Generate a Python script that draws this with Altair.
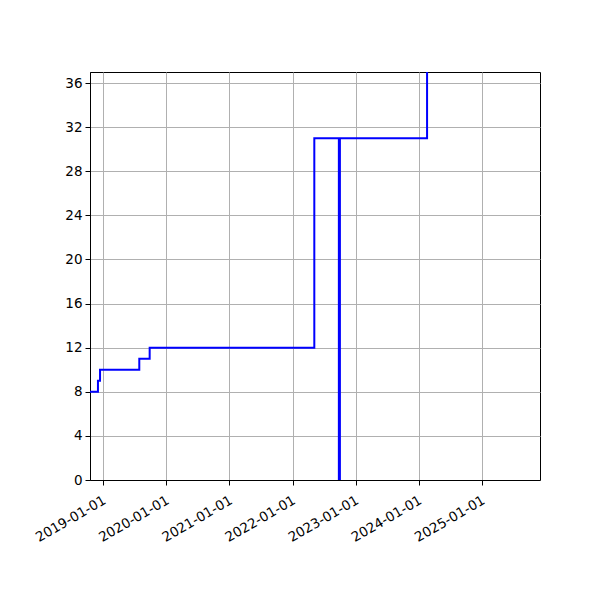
import altair as alt
import pandas as pd

dates = ["2018-10-01", "2018-12-03", "2018-12-15", "2019-07-30", "2019-09-28",
         "2022-05-07", "2022-09-26", "2022-10-02", "2024-02-18", "2025-12-31"]
values = [8, 9, 10, 11, 12, 31, 0, 31, 40, 40]

tick_years = [2019, 2020, 2021, 2022, 2023, 2024, 2025]
y_ticks = list(range(0, 37, 4))

df = pd.DataFrame({"date": dates, "value": values})

font = "DejaVu Sans"

chart = alt.Chart(df).mark_line(
    interpolate="step-after", color="#0000ff", strokeWidth=2, clip=True
).encode(
    x=alt.X("date:T",
            scale=alt.Scale(type="utc",
                            domain=[alt.DateTime(year=2018, month=10, date=18, utc=True),
                                    alt.DateTime(year=2025, month=12, date=2, utc=True)]),
            axis=alt.Axis(values=[alt.DateTime(year=y, month=1, date=1, utc=True) for y in tick_years],
                          format="%Y-%m-%d", labelAngle=-30, labelAlign="right",
                          labelBaseline="top", labelOverlap=False, labelPadding=8,
                          labelOffset=-2, title=None)),
    y=alt.Y("value:Q", scale=alt.Scale(domain=[0, 37], nice=False, zero=True),
            axis=alt.Axis(values=y_ticks, title=None)),
).properties(
    width=450, height=408,
    autosize=alt.AutoSizeParams(type="none"),
    padding={"left": 82, "top": 64, "right": 52, "bottom": 112},
).configure_view(
    stroke="black", strokeWidth=1
).configure_axis(
    grid=True, gridColor="#b0b0b0", gridWidth=1, gridOpacity=1,
    domainColor="black", tickColor="black", tickSize=5, tickWidth=1,
    labelColor="black", labelFont=font, labelFontSize=13.5, labelPadding=3,
)

chart.save("out.html", embed_options={"renderer": "svg", "actions": False})
